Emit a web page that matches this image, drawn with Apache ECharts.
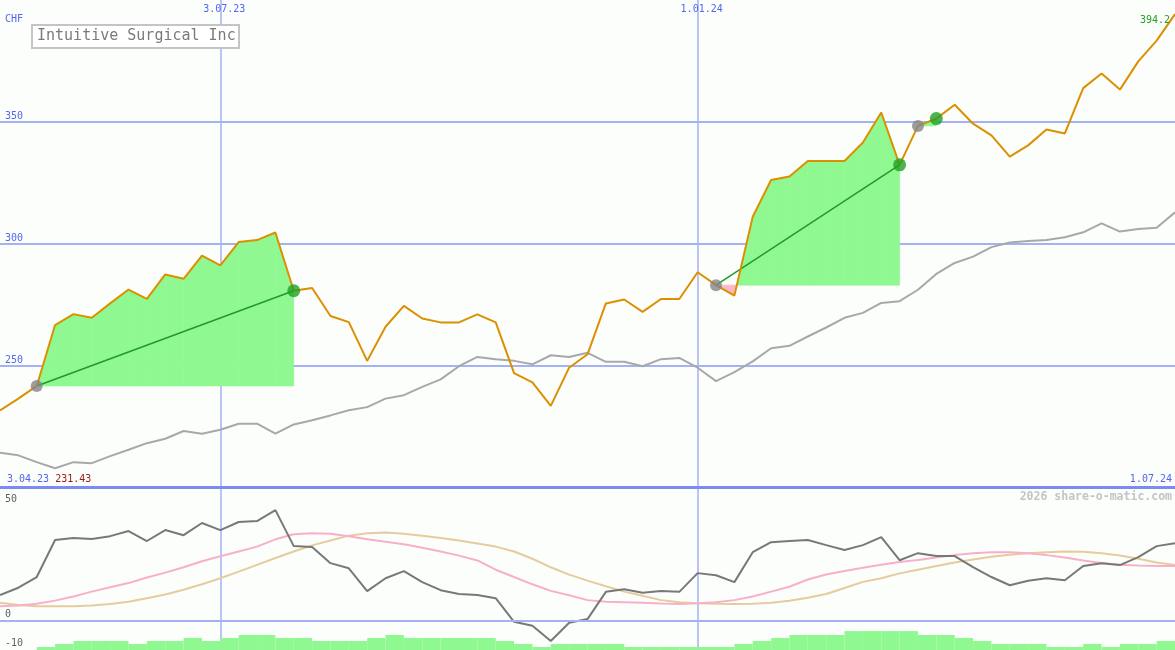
<!DOCTYPE html>
<html><head><meta charset="utf-8">
<script src="https://cdn.jsdelivr.net/npm/echarts@6/dist/echarts.min.js"></script>
<style>html,body{margin:0;padding:0;background:#fcfefc;}#c{width:1175px;height:650px;}</style>
</head><body><div id="c"></div>
<script>
// ---- data ----
const weeks = ['3.04.23','17.04.23','24.04.23','1.05.23','8.05.23','15.05.23','22.05.23','29.05.23','5.06.23','12.06.23','19.06.23','26.06.23',
'3.07.23','10.07.23','17.07.23','24.07.23','31.07.23','7.08.23','14.08.23','21.08.23','28.08.23','4.09.23','11.09.23','18.09.23','25.09.23',
'2.10.23','9.10.23','16.10.23','23.10.23','30.10.23','6.11.23','13.11.23','20.11.23','27.11.23','4.12.23','11.12.23','18.12.23','25.12.23',
'1.01.24','8.01.24','15.01.24','22.01.24','29.01.24','5.02.24','12.02.24','19.02.24','26.02.24','4.03.24','11.03.24','18.03.24','25.03.24',
'1.04.24','8.04.24','15.04.24','22.04.24','29.04.24','6.05.24','13.05.24','20.05.24','27.05.24','3.06.24','10.06.24','17.06.24','24.06.24','1.07.24'];
const price = [231.43,236.3,241.5,266.5,271.0,269.5,275.4,281.1,277.3,287.3,285.5,295.0,291.0,300.6,301.4,304.5,280.6,281.7,270.2,267.7,251.8,265.8,
274.4,269.2,267.6,267.6,270.9,267.6,246.8,243.0,233.3,249.0,254.5,275.4,277.0,271.9,277.2,277.2,288.2,282.9,278.6,311.0,326.1,327.5,333.9,333.9,
333.9,341.5,353.8,332.3,348.3,351.3,357.0,349.2,344.4,335.7,340.3,346.8,345.2,363.8,369.8,363.2,374.8,383.3,394.2];
const priceAvg = [214.1,213.0,210.2,207.7,210.2,209.8,212.7,215.3,218.0,219.8,223.0,221.9,223.5,226.0,226.0,221.9,225.7,227.4,229.4,231.5,232.8,236.3,
237.7,241.1,244.2,249.6,253.4,252.5,251.8,250.4,254.1,253.4,255.1,251.4,251.4,249.6,252.5,253.0,249.0,243.5,247.2,251.6,257.0,258.0,261.8,265.5,
269.5,271.5,275.6,276.3,281.0,287.5,292.0,294.6,298.5,300.4,301.0,301.4,302.6,304.6,308.3,304.9,306.0,306.5,312.8];
const osc = [10.6,13.6,18.0,33.2,34.0,33.6,34.8,36.9,32.8,37.3,35.2,40.2,37.3,40.6,41.0,45.5,30.7,30.3,23.7,21.6,12.2,17.5,20.4,15.9,12.6,11.0,10.6,9.3,
-0.4,-2.0,-8.3,-0.8,0.7,11.9,13.0,11.5,12.3,11.9,19.6,18.7,15.9,28.2,32.3,32.8,33.2,31.1,29.1,31.1,34.4,24.9,27.8,26.6,26.6,22.1,18.0,14.6,16.5,17.5,
16.7,22.5,23.7,22.9,26.2,30.7,31.9];
const oscFast = [6.0,6.3,7.0,8.3,10.0,12.0,13.8,15.5,17.8,19.8,22.0,24.5,26.5,28.5,30.5,33.5,35.6,36.0,35.8,34.8,33.5,32.5,31.5,30.0,28.5,26.8,24.8,21.0,
18.0,15.0,12.3,10.5,8.5,7.8,7.6,7.4,7.1,6.9,7.2,7.6,8.5,10.0,12.0,14.0,17.0,19.0,20.5,21.8,23.0,24.2,25.0,26.0,27.0,27.8,28.2,28.2,27.8,27.0,26.0,24.8,
23.8,23.0,22.7,22.5,22.5];
const oscSlow = [7.4,6.5,6.0,6.0,6.0,6.3,6.9,7.8,9.3,10.8,12.8,15.0,17.5,20.2,23.0,25.8,28.5,31.0,33.0,35.0,36.0,36.3,35.8,35.0,34.0,33.0,31.8,30.5,28.5,
25.5,22.0,19.0,16.5,14.2,12.0,10.3,8.5,7.6,7.2,7.0,6.9,7.0,7.4,8.2,9.5,11.0,13.5,16.0,17.5,19.5,21.0,22.5,24.0,25.2,26.3,27.2,27.8,28.2,28.5,28.4,27.8,
26.8,25.5,24.0,22.9];
const volume = [0,0,1,2,3,3,3,2,3,3,4,3,4,5,5,4,4,3,3,3,4,5,4,4,4,4,4,3,2,1,2,2,2,2,1,1,1,1,1,1,2,3,4,5,5,5,6.3,6.3,6.3,6.3,5,5,4,3,2,2,2,1,1,2,1,2,2,3];
const trades = [{buy:'24.04.23', sell:'31.07.23'}, {buy:'8.01.24', sell:'18.03.24'}, {buy:'25.03.24', sell:'1.04.24'}];
const priceTicks = [250,300,350];
const oscTicks = [-10,0,50];
const markedWeeks = ['3.07.23','1.01.24'];
const title = 'Intuitive Surgical Inc';
const currency = 'CHF';
const credit = '2026 share-o-matic.com';

// ---- derived ----
const GREEN = '#90f890', PINK = '#f8b8c8', BLUE = '#5266ee';
const FONT = 'DejaVu Sans Mono';
const tIdx = trades.map(t => ({b: weeks.indexOf(t.buy), s: weeks.indexOf(t.sell)}));
const fillData = [];
tIdx.forEach(t => { for (let i = t.b; i < t.s; i++) fillData.push([i, price[i], i + 1, price[i + 1], price[t.b]]); });
const marked = (i) => markedWeeks.includes(weeks[i]);
const last = price.length - 1;

function fillRender(params, api) {
  const a = api.coord([api.value(0), api.value(1)]);
  const c = api.coord([api.value(2), api.value(3)]);
  const by = api.coord([api.value(0), api.value(4)])[1];
  const da = by - a[1], dc = by - c[1];
  const kids = [];
  const poly = (pts, up) => kids.push({type:'polygon', shape:{points:pts},
    style:{fill: up ? GREEN : PINK, stroke: up ? GREEN : PINK, lineWidth: 0.6}});
  if (da * dc < 0) {
    const t = da / (da - dc);
    const mx = a[0] + t * (c[0] - a[0]);
    poly([[a[0], by], a, [mx, by]], da > 0);
    poly([[mx, by], c, [c[0], by]], dc > 0);
  } else {
    poly([[a[0], by], a, c, [c[0], by]], da + dc > 0);
  }
  return {type:'group', children: kids};
}

const chart = echarts.init(document.getElementById('c'), null, {renderer:'canvas'});
chart.setOption({
  animation:false,
  backgroundColor:'#fcfefc',
  title:[
    {text:title, left:32, top:25, padding:[4,4,4,5], borderColor:'#c4c4c4', borderWidth:2, backgroundColor:'#ffffff',
     textStyle:{color:'#7a7a7a', fontFamily:FONT, fontSize:15, fontWeight:'normal'}},
    {text:credit, right:3, top:491, padding:0,
     textStyle:{color:'#c4c4c4', fontFamily:FONT, fontSize:11.5, fontWeight:'bold'}}
  ],
  grid:[{left:0,right:0,top:0,height:487},{left:0,right:0,top:487,height:163}],
  xAxis:[
    {gridIndex:0, type:'category', data:weeks, boundaryGap:false, position:'bottom',
     axisLine:{show:true, lineStyle:{color:'#7b8bef', width:3}}, axisTick:{show:false},
     axisLabel:{inside:true, margin:3, interval:(i)=> i===0 || i===last, alignMinLabel:'left', alignMaxLabel:'right',
       fontFamily:FONT, fontSize:10, color:BLUE,
       formatter:(v, i)=> i===0 ? '{d|'+v+'} {r|'+price[0].toFixed(2)+'}' : '{e|'+v+'}',
       rich:{d:{color:BLUE, fontFamily:FONT, fontSize:10, padding:[0,0,0,7]}, r:{color:'#a01c1c', fontFamily:FONT, fontSize:10},
             e:{color:BLUE, fontFamily:FONT, fontSize:10, padding:[0,3,0,0]}}},
     splitLine:{show:true, interval:(i)=>marked(i), lineStyle:{color:'#a4b2f4', width:1.5}}},
    {gridIndex:0, type:'category', data:weeks, boundaryGap:false, position:'top',
     axisLine:{show:false}, axisTick:{show:false}, splitLine:{show:false},
     axisLabel:{inside:true, margin:4, interval:(i)=>marked(i), fontFamily:FONT, fontSize:10, color:BLUE, padding:[0,0,0,8]}},
    {gridIndex:1, type:'category', data:weeks, boundaryGap:false,
     axisLine:{show:false}, axisTick:{show:false}, axisLabel:{show:false},
     splitLine:{show:true, interval:(i)=>marked(i), lineStyle:{color:'#a4b2f4', width:1.5}}},
    {gridIndex:1, type:'category', data:weeks.slice(0, last), boundaryGap:true, show:false}
  ],
  yAxis:[
    {gridIndex:0, type:'value', min:200, max:400, interval:50, name:currency, nameLocation:'end', nameGap:-19,
     nameTextStyle:{color:BLUE, fontFamily:FONT, fontSize:10, align:'left', verticalAlign:'middle', padding:[0,0,0,5]},
     axisLine:{show:false}, axisTick:{show:false},
     axisLabel:{inside:true, margin:5, verticalAlign:'bottom', color:BLUE, fontFamily:FONT, fontSize:10,
       formatter:(v)=> priceTicks.includes(v) ? String(v) : ''},
     splitLine:{show:true, showMinLine:false, showMaxLine:false, lineStyle:{color:'#a4b2f4', width:2}}},
    {gridIndex:1, type:'value', min:-12, max:55,
     axisLine:{show:false}, axisTick:{show:false}, splitLine:{show:false},
     axisLabel:{inside:true, margin:5, customValues:oscTicks, color:'#606060', fontFamily:FONT, fontSize:10,
       formatter:(v)=> v===0 ? '{u|0}' : v===-10 ? '{w|-10}' : String(v),
       rich:{u:{color:'#606060', fontFamily:FONT, fontSize:10, padding:[0,0,12,0]},
             w:{color:'#606060', fontFamily:FONT, fontSize:10, padding:[0,0,4,0]}}}},
    {gridIndex:1, type:'value', min:0, max:163/3, show:false}
  ],
  series:[
    {type:'custom', xAxisIndex:0, yAxisIndex:0, data:fillData, encode:{x:[0,2], y:[1,3,4]}, renderItem:fillRender, silent:true, z:1},
    {type:'line', xAxisIndex:0, yAxisIndex:0, data:priceAvg, symbol:'none', lineStyle:{color:'#a8a8a8', width:2}, z:2},
    ...tIdx.map(t => ({type:'line', xAxisIndex:0, yAxisIndex:0, data:[[t.b, price[t.b]], [t.s, price[t.s]]], symbol:'none',
       lineStyle:{color:'#22992a', width:1.5}, z:3})),
    {type:'line', xAxisIndex:0, yAxisIndex:0, data:price, symbol:'none', lineStyle:{color:'#dc9000', width:2}, z:4,
     markPoint:{symbol:'circle', symbolSize:0, silent:true,
       data:[{coord:[last, price[last]], value:price[last]}],
       label:{show:true, position:'left', distance:5, offset:[0,6], color:'#22a022', fontFamily:FONT, fontSize:10,
         formatter:()=> String(price[last])}}},
    {type:'scatter', xAxisIndex:0, yAxisIndex:0, data:tIdx.map(t=>[t.b, price[t.b]]), symbolSize:12,
     itemStyle:{color:'#858585'}, z:5},
    {type:'scatter', xAxisIndex:0, yAxisIndex:0, data:tIdx.map(t=>[t.s, price[t.s]]), symbolSize:13,
     itemStyle:{color:'#22a022'}, z:5},
    {type:'bar', xAxisIndex:3, yAxisIndex:2, data:volume, barWidth:'100%', barCategoryGap:0,
     itemStyle:{color:GREEN}, z:1},
    {type:'line', xAxisIndex:2, yAxisIndex:1, data:oscSlow, symbol:'none', lineStyle:{color:'#e6cc9c', width:2}, z:2},
    {type:'line', xAxisIndex:2, yAxisIndex:1, data:oscFast, symbol:'none', lineStyle:{color:'#f8b0c8', width:2}, z:3},
    {type:'line', xAxisIndex:2, yAxisIndex:1, data:osc, symbol:'none', lineStyle:{color:'#787878', width:2}, z:4,
     markLine:{silent:true, symbol:'none', label:{show:false}, data:[{yAxis:0}], lineStyle:{color:'#a4b2f4', width:2, type:'solid'}}}
  ]
});
</script></body></html>
